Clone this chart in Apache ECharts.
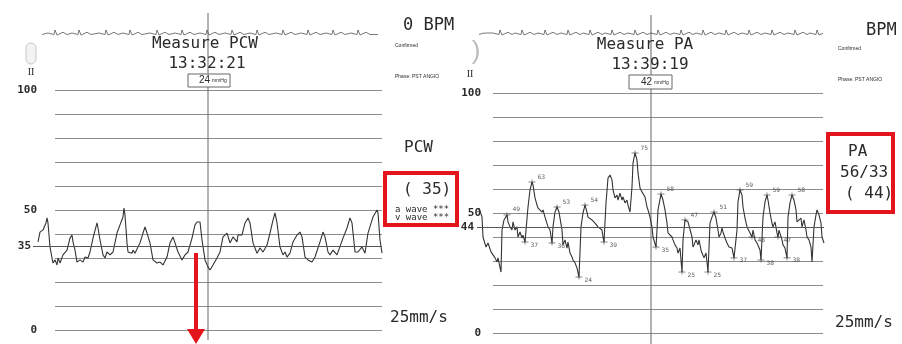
<!DOCTYPE html>
<html>
<head>
<meta charset="utf-8">
<script src="https://cdn.jsdelivr.net/npm/echarts@6/dist/echarts.min.js"></script>
<style>
  html, body { margin: 0; padding: 0; background: #fff; }
  #chart { width: 902px; height: 344px; }
</style>
</head>
<body>
<div id="chart"></div>
<script>
// pressure tracings, [time, mmHg] (time in strip units, 0 = start of gridlines)
const pcwTrace = [
  [-17,36.7],[-15,40.8],[-12,41.7],[-9,44.6],[-8,46.7],[-7,44.6],[-5,34.6],[-3,30],[-2,27.9],[0,29.2],
  [2,27.1],[3,30],[5,27.9],[8,31.3],[12,33.3],[15,38.3],[17,39.6],[18,36.7],[20,33.3],[22,28.3],
  [25,29.2],[28,28.3],[30,30.4],[33,30],[35,32.5],[38,38.3],[42,44.6],[43,42.5],[45,37.5],[48,31.3],
  [50,30],[52,32.5],[55,31.3],[58,32.5],[62,40.4],[65,43.8],[68,47.1],[69,50.8],[70,47.9],[72,36.3],
  [73,32.5],[75,33.3],[77,32],[78,33.3],[80,32],[85,36.3],[88,40.4],[90,42.9],[92,40.4],[95,36.3],
  [98,29.2],[102,27.9],[105,28.3],[108,27.1],[112,30.4],[115,36.3],[118,38.8],[120,36.3],[123,32.5],[127,29.2],
  [130,31.3],[133,32.5],[137,38.3],[140,43.8],[142,45],[145,45],[147,37.5],[150,29.2],[153,26.3],[155,25],
  [158,27.1],[162,30],[165,32.5],[168,38.8],[172,40.4],[175,36.3],[178,38.8],[182,36.7],[183,39.6],[187,39.6],
  [190,44.6],[193,46.7],[195,44.6],[198,36.3],[202,32],[205,34.2],[208,32.5],[212,35.4],[215,40.4],[218,45.8],
  [220,48.8],[222,44.6],[225,34.6],[228,31.3],[230,32.5],[232,30.4],[235,32],[238,36.7],[242,39.6],[245,40.8],
  [247,38.8],[250,30.4],[253,29.2],[257,28.3],[260,30.4],[265,36.7],[268,40.8],[270,38.8],[273,32.5],[275,31.3],
  [278,33.3],[282,31.3],[288,38.3],[292,42.5],[295,46.7],[297,44.6],[300,32.5],[303,32.5],[307,34.6],[310,32],
  [313,40.4],[317,45.8],[318,47.1],[322,50],[323,48.8],[325,37.5],[327,32]
];
const paTrace = [
  [-14,52.1],[-11,48.3],[-10,40],[-7,35.8],[-5,37.5],[-2,33.8],[0,34.6],[2,31.3],[4,29.6],[5,31.3],
  [8,25.4],[9,42.9],[11,47.1],[14,49.2],[15,46.3],[17,44.2],[19,42.9],[20,46.3],[22,42.9],[24,44.2],
  [25,40],[27,42.1],[29,39.6],[30,40.8],[32,37.9],[34,37.5],[35,52.5],[37,59.6],[39,62.9],[40,61.7],
  [42,56.3],[44,53.3],[45,52.1],[47,52.5],[49,50.4],[50,51.3],[52,48.3],[54,47.9],[55,44.2],[57,42.9],
  [59,37.5],[60,44.2],[62,50.4],[64,52.5],[66,50.4],[69,42.9],[70,36.7],[72,38.8],[74,35.4],[75,37.9],
  [77,33.3],[79,31.7],[80,30.4],[82,29.2],[84,27.1],[86,23.3],[88,44.2],[90,50],[92,53.3],[94,50.4],
  [95,48.3],[97,47.9],[99,47.1],[100,47.9],[102,45.8],[104,46.3],[105,44.2],[109,42.9],[110,40],[111,37.9],
  [113,54.2],[115,64.6],[117,65.8],[119,63.8],[120,59.6],[122,56.3],[124,57.5],[125,55.4],[127,58.3],[129,55.4],
  [130,56.7],[132,54.2],[134,55.4],[135,53.3],[137,50.4],[139,60.8],[140,70.8],[142,75],[144,72.1],[145,66.7],
  [147,60.4],[149,58.8],[150,59.6],[152,56.7],[154,52.5],[155,51.3],[157,48.3],[159,44.2],[160,40],[162,39.6],
  [163,35.8],[164,42.9],[165,51.3],[168,57.9],[170,55.4],[172,51.3],[174,45.8],[175,41.7],[177,42.1],[179,40],
  [180,38.8],[182,36.7],[184,35.4],[185,33.3],[187,35.4],[189,25.4],[190,38.8],[192,47.1],[194,47.9],[195,46.3],
  [197,47.1],[199,40],[200,35.8],[201,36.7],[203,38.8],[205,36.7],[206,38.8],[208,34.6],[209,33.3],[211,31.3],
  [213,33.3],[214,29.6],[215,25.4],[217,45.8],[219,48.3],[221,50.4],[223,47.9],[225,42.9],[226,40],[228,41.7],
  [229,43.8],[230,42.1],[232,39.6],[234,37.5],[236,35.8],[239,35.4],[241,31.3],[244,42.9],[245,54.6],[247,59.6],
  [249,57.5],[250,52.5],[252,47.9],[254,44.2],[255,45],[257,41.7],[259,40],[260,42.9],[262,38.8],[264,37.5],
  [265,36.7],[267,34.6],[268,30.4],[270,48.3],[272,54.6],[274,57.5],[275,55.4],[277,50],[279,45.8],[280,44.2],
  [282,46.3],[284,41.7],[285,40],[286,42.9],[289,38.8],[290,36.7],[292,35.4],[294,31.3],[295,48.3],[297,54.2],
  [299,57.5],[301,55.4],[303,51.3],[304,46.3],[306,45.8],[308,47.9],[309,44.2],[311,47.1],[313,42.9],[314,40],
  [316,38.8],[318,35.8],[319,29.6],[321,44.2],[323,49.2],[324,51.3],[326,49.2],[328,45.8],[329,40],[331,37.5]
];
// printed peak / trough marks on the PA strip: [time, mmHg, printed text]
const paMarks = [
  [14,49.2,'49'],[32,37.9,'37'],[39,62.9,'63'],[59,37.5,'36'],[64,52.5,'53'],[86,23.3,'24'],
  [92,53.3,'54'],[111,37.9,'39'],[142,75,'75'],[163,35.8,'35'],[168,57.9,'58'],[189,25.4,'25'],
  [192,47.1,'47'],[215,25.4,'25'],[221,50.4,'51'],[241,31.3,'37'],[247,59.6,'59'],[259,40,'48'],
  [268,30.4,'38'],[274,57.5,'59'],[285,40,'47'],[294,31.3,'38'],[299,57.5,'58']
];
// ECG lead II strips
const ecgLeft = [
  [-13,0],[-7,0.6],[-5,0],[-1,0],[0,1.8],[2,-0.2],[4,0],[8,0.9],[12,0],
  [17,0.6],[19,0],[23,0],[24,1.8],[26,-0.2],[28,0],[32,0.9],[36,0],
  [44,0.6],[46,0],[50,0],[51,1.8],[53,-0.2],[55,0],[59,0.9],[63,0],
  [68,0.6],[70,0],[74,0],[75,1.8],[77,-0.2],[79,0],[83,0.9],[87,0],
  [95,0.6],[97,0],[101,0],[102,1.8],[104,-0.2],[106,0],[110,0.9],[114,0],
  [120,0.6],[122,0],[126,0],[127,1.8],[129,-0.2],[131,0],[135,0.9],[139,0],
  [145,0.6],[147,0],[151,0],[152,1.8],[154,-0.2],[156,0],[160,0.9],[164,0],
  [170,0.6],[172,0],[176,0],[177,1.8],[179,-0.2],[181,0],[185,0.9],[189,0],
  [195,0.6],[197,0],[201,0],[202,1.8],[204,-0.2],[206,0],[210,0.9],[214,0],
  [221,0.6],[223,0],[227,0],[228,1.8],[230,-0.2],[232,0],[236,0.9],[240,0],
  [246,0.6],[248,0],[252,0],[253,1.8],[255,-0.2],[257,0],[261,0.9],[265,0],
  [271,0.6],[273,0],[277,0],[278,1.8],[280,-0.2],[282,0],[286,0.9],[290,0],
  [296,0.6],[298,0],[302,0],[303,1.8],[305,-0.2],[307,0],[311,0.9],[315,0],
  [323,0]
];
const ecgRight = [
  [-14,0],[-10,0.5],[-8,-0.3],[-6,0.6],[-4,0],
  [0,0.6],[2,0],[6,0],[7,1.8],[9,-0.2],[11,0],[15,0.9],[19,0],
  [22,0.6],[24,0],[28,0],[29,1.8],[31,-0.2],[33,0],[37,0.9],[41,0],
  [45,0.6],[47,0],[51,0],[52,1.8],[54,-0.2],[56,0],[60,0.9],[64,0],
  [68,0.6],[70,0],[74,0],[75,1.8],[77,-0.2],[79,0],[83,0.9],[87,0],
  [90,0.6],[92,0],[96,0],[97,1.8],[99,-0.2],[101,0],[105,0.9],[109,0],
  [112,0.6],[114,0],[118,0],[119,1.8],[121,-0.2],[123,0],[127,0.9],[131,0],
  [135,0.6],[137,0],[141,0],[142,1.8],[144,-0.2],[146,0],[150,0.9],[154,0],
  [158,0.6],[160,0],[164,0],[165,1.8],[167,-0.2],[169,0],[173,0.9],[177,0],
  [181,0.6],[183,0],[187,0],[188,1.8],[190,-0.2],[192,0],[196,0.9],[200,0],
  [203,0.6],[205,0],[209,0],[210,1.8],[212,-0.2],[214,0],[218,0.9],[222,0],
  [226,0.6],[228,0],[232,0],[233,1.8],[235,-0.2],[237,0],[241,0.9],[245,0],
  [249,0.6],[251,0],[255,0],[256,1.8],[258,-0.2],[260,0],[264,0.9],[268,0],
  [272,0.6],[274,0],[278,0],[279,1.8],[281,-0.2],[283,0],[287,0.9],[291,0],
  [295,0.6],[297,0],[301,0],[302,1.8],[304,-0.2],[306,0],[310,0.9],[314,0],
  [317,0.6],[319,0],[323,0],[324,1.8],[326,-0.2],[328,0],[330,0.5]
];
const cursorLeft = 153;
const cursorRight = 158;
const refLeft = 35;
const refRight = 44;
const yTickLabels = [0, 50, 100];

const MONO = 'DejaVu Sans Mono';
const INK = '#2a2a2a';
const GRIDC = '#8c8c8c';
const RED = '#e3141c';

let chart = echarts.init(document.getElementById('chart'), null, {renderer: 'canvas'});

function hiddenX(min, max, gi) {
  return {type: 'value', gridIndex: gi, min: min, max: max, show: false};
}
function hiddenY(min, max, gi) {
  return {type: 'value', gridIndex: gi, min: min, max: max, show: false};
}
function bgY(gi, margin) {
  return {
    type: 'value', gridIndex: gi, min: 0, max: 100, interval: 10,
    axisLine: {show: false}, axisTick: {show: false},
    splitLine: {show: true, lineStyle: {color: GRIDC, width: 1}},
    axisLabel: {
      margin: margin, color: INK, fontFamily: MONO, fontWeight: 'bold', fontSize: 11,
      formatter: v => yTickLabels.includes(v) ? String(v) : ''
    }
  };
}
function refMark(v, dist) {
  return {
    symbol: ['none', 'none'], silent: true, animation: false,
    lineStyle: {color: '#555', width: 1, type: 'solid'},
    label: {show: true, position: 'start', distance: dist, formatter: String(v),
      color: INK, fontFamily: MONO, fontWeight: 'bold', fontSize: 11},
    data: [{yAxis: v}]
  };
}

const traceStyle = {color: '#333', width: 1.1};
const ecgStyle = {color: '#555', width: 0.8};

let txt = (x, y, text, font, align, color) => ({
  type: 'text', x: x, y: y, z: 100,
  style: {text: text, font: font, fill: color || INK, textAlign: align || 'left', textVerticalAlign: 'middle'}
});

chart.setOption({
  animation: false,
  backgroundColor: '#fff',
  grid: [
    {left: 55, right: 520, top: 90, bottom: 14},   // 0 left background lines
    {left: 33, right: 520, top: 90, bottom: 14},   // 1 left pressure
    {left: 33, right: 520, top: 27, height: 10},   // 2 left ECG
    {left: 33, right: 520, top: 13, bottom: 4},    // 3 left cursor
    {left: 493, right: 79, top: 93, bottom: 11},   // 4 right background lines
    {left: 477, right: 78, top: 93, bottom: 11},   // 5 right pressure
    {left: 477, right: 78, top: 27, height: 10},   // 6 right ECG
    {left: 477, right: 78, top: 15, bottom: 0}     // 7 right cursor
  ],
  xAxis: [
    hiddenX(0, 327, 0), hiddenX(-22, 327, 1), hiddenX(-22, 327, 2), hiddenX(-22, 327, 3),
    hiddenX(0, 330, 4), hiddenX(-16, 331, 5), hiddenX(-16, 331, 6), hiddenX(-16, 331, 7)
  ],
  yAxis: [
    bgY(0, 18), hiddenY(0, 100, 1), hiddenY(-1, 3, 2), hiddenY(0, 1, 3),
    bgY(4, 12), hiddenY(0, 100, 5), hiddenY(-1, 3, 6), hiddenY(0, 1, 7)
  ],
  series: [
    {type: 'line', xAxisIndex: 3, yAxisIndex: 3, data: [[cursorLeft, 0], [cursorLeft, 1]],
      symbol: 'none', lineStyle: {color: '#666', width: 1}, silent: true},
    {type: 'line', xAxisIndex: 7, yAxisIndex: 7, data: [[cursorRight, 0], [cursorRight, 1]],
      symbol: 'none', lineStyle: {color: '#666', width: 1}, silent: true},
    {type: 'line', name: 'PCW', xAxisIndex: 1, yAxisIndex: 1, data: pcwTrace,
      symbol: 'none', lineStyle: traceStyle, markLine: refMark(refLeft, 2)},
    {type: 'line', name: 'ECG L', xAxisIndex: 2, yAxisIndex: 2, data: ecgLeft,
      symbol: 'none', lineStyle: ecgStyle},
    {type: 'line', name: 'PA', xAxisIndex: 5, yAxisIndex: 5, data: paTrace,
      symbol: 'none', lineStyle: traceStyle, markLine: refMark(refRight, 3)},
    {type: 'scatter', name: 'PA marks', xAxisIndex: 5, yAxisIndex: 5,
      symbol: 'path://M0,3H8M4,0V6', symbolSize: [7, 5],
      itemStyle: {color: 'none', borderColor: '#444', borderWidth: 0.8},
      data: paMarks.map(m => ({
        value: m,
        label: {offset: m[1] > 45 ? [-2, -5] : [-2, 3]}
      })),
      label: {show: true, position: 'right', distance: 1, formatter: p => p.data.value[2],
        fontSize: 6, fontFamily: 'DejaVu Sans', color: '#333'}},
    {type: 'line', name: 'ECG R', xAxisIndex: 6, yAxisIndex: 6, data: ecgRight,
      symbol: 'none', lineStyle: ecgStyle}
  ],
  graphic: [
    // left panel
    {type: 'rect', z: 100, shape: {x: 26, y: 43, width: 10, height: 21, r: 5},
      style: {fill: '#f3f3f3', stroke: '#c8c8c8', lineWidth: 1}},
    txt(31, 72, 'II', '10px Liberation Serif', 'center'),
    txt(205, 44, 'Measure PCW', '16px ' + MONO, 'center'),
    txt(207, 64, '13:32:21', '16px ' + MONO, 'center'),
    {type: 'rect', z: 100, shape: {x: 188, y: 74, width: 42, height: 13},
      style: {fill: '#fff', stroke: '#666', lineWidth: 1}},
    txt(210, 80, '24', '10px Liberation Sans', 'right'),
    txt(212, 81, 'mmHg', '5px Liberation Sans', 'left'),
    txt(403, 26, '0 BPM', '17px ' + MONO),
    txt(395, 46, 'Confirmed', '5px Liberation Sans'),
    txt(395, 77, 'Phase: PST ANGIO', '5px Liberation Sans'),
    txt(404, 148, 'PCW', '16px ' + MONO),
    txt(403, 190, '( 35)', '16px ' + MONO),
    txt(395, 210, 'a wave ***', '9px ' + MONO),
    txt(395, 218, 'v wave ***', '9px ' + MONO),
    txt(390, 318, '25mm/s', '16px ' + MONO),
    {type: 'rect', z: 100, shape: {x: 385, y: 173, width: 72, height: 52},
      style: {fill: 'none', stroke: RED, lineWidth: 4}},
    {type: 'line', z: 100, shape: {x1: 196, y1: 253, x2: 196, y2: 331},
      style: {stroke: RED, lineWidth: 4}},
    {type: 'polygon', z: 100, shape: {points: [[187, 329], [205, 329], [196, 344]]},
      style: {fill: RED}},
    // right panel
    txt(476, 52, ')', '26px Liberation Sans', 'center', '#bbb'),
    txt(470, 74, 'II', '10px Liberation Serif', 'center'),
    txt(645, 45, 'Measure PA', '16px ' + MONO, 'center'),
    txt(650, 65, '13:39:19', '16px ' + MONO, 'center'),
    {type: 'rect', z: 100, shape: {x: 629, y: 75, width: 43, height: 14},
      style: {fill: '#fff', stroke: '#666', lineWidth: 1}},
    txt(652, 82, '42', '10px Liberation Sans', 'right'),
    txt(654, 83, 'mmHg', '5px Liberation Sans', 'left'),
    txt(866, 31, 'BPM', '17px ' + MONO),
    txt(838, 49, 'Confirmed', '5px Liberation Sans'),
    txt(838, 80, 'Phase: PST ANGIO', '5px Liberation Sans'),
    txt(848, 152, 'PA', '16px ' + MONO),
    txt(840, 173, '56/33', '16px ' + MONO),
    txt(845, 194, '( 44)', '16px ' + MONO),
    txt(835, 323, '25mm/s', '16px ' + MONO),
    {type: 'rect', z: 100, shape: {x: 828, y: 134, width: 65, height: 78},
      style: {fill: 'none', stroke: RED, lineWidth: 4}}
  ]
});
</script>
</body>
</html>
